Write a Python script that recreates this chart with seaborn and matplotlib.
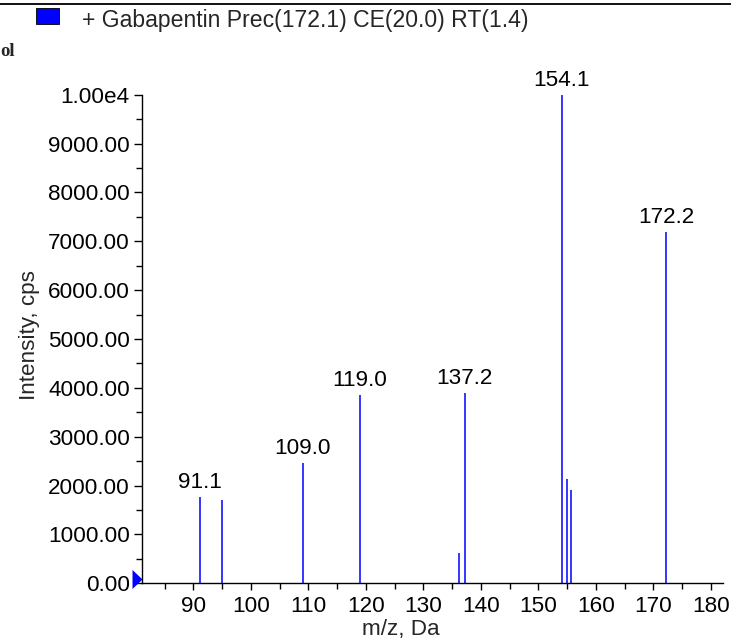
import matplotlib
matplotlib.use("Agg")
import matplotlib.pyplot as plt
import seaborn as sns
import numpy as np
import pandas as pd

# ---- data ----
mz = [91.1, 95.0, 109.0, 119.0, 136.2, 137.2, 154.1, 155.0, 155.6, 172.2]
intensity = [1768, 1700, 2453, 3852, 629, 3887, 10000, 2125, 1906, 7186]
labelled = [91.1, 109.0, 119.0, 137.2, 154.1, 172.2]
label_text = ["91.1", "109.0", "119.0", "137.2", "154.1", "172.2"]
y_ticks = [0, 1000, 2000, 3000, 4000, 5000, 6000, 7000, 8000, 9000, 10000]
y_tick_labels = ["0.00", "1000.00", "2000.00", "3000.00", "4000.00", "5000.00",
                 "6000.00", "7000.00", "8000.00", "9000.00", "1.00e4"]
x_ticks = [90, 100, 110, 120, 130, 140, 150, 160, 170, 180]
title = "+ Gabapentin Prec(172.1) CE(20.0) RT(1.4)"

df = pd.DataFrame({"mz": mz, "intensity": intensity})

sns.set_theme(style="ticks")
plt.rcParams["font.family"] = ["Liberation Sans", "DejaVu Sans"]

FS = 16.2
W, H = 731, 641
fig = plt.figure(figsize=(W / 100, H / 100), dpi=100)
ax = fig.add_axes([142.3 / W, (H - 583.3) / H, (723 - 142.3) / W, (583.3 - 94.7) / H])

blue = "#0000FF"
ax.vlines(df["mz"], 0, df["intensity"], color=blue, linewidth=1.1)

for m, t in zip(labelled, label_text):
    y = df.loc[np.isclose(df["mz"], m), "intensity"].iloc[0]
    ax.annotate(t, (m, y), xytext=(0, 3), textcoords="offset points",
                ha="center", va="bottom", fontsize=FS, color="black",
                annotation_clip=False)

ax.set_xlim(81.13, 182.1)
ax.set_ylim(0, 10000)
ax.set_xticks(x_ticks)
ax.set_xticks(np.arange(85, 182, 10), minor=True)
ax.set_yticks(y_ticks)
ax.set_yticklabels(y_tick_labels)
ax.set_yticks(np.arange(500, 10000, 1000), minor=True)
ax.tick_params(axis="y", which="major", direction="out", length=6, width=1,
               labelsize=FS, colors="black", pad=3)
ax.tick_params(axis="x", which="major", direction="out", length=5, width=1,
               labelsize=FS, colors="black", pad=4)
ax.tick_params(axis="both", which="minor", direction="out", length=4, width=1,
               colors="black")
sns.despine(ax=ax)
for s in ["left", "bottom"]:
    ax.spines[s].set_color("black")
    ax.spines[s].set_linewidth(1.0)
ax.set_facecolor("white")

# blue marker at origin (left of the y axis, pointing right)
tri = [(-1.0, -0.95), (-1.0, 0.95), (0.0, 0.0), (-1.0, -0.95)]
ax.plot([0], [4.8 / 488.6], marker=tri, markersize=14.4, color=blue,
        transform=ax.transAxes, clip_on=False, markeredgewidth=0)

# axis labels
fig.text(29 / W, 1 - 335 / H, "Intensity, cps", rotation=90, ha="center", va="center",
         fontsize=FS)
fig.text(401 / W, 1 - 629 / H, "m/z, Da", ha="center", va="center", fontsize=FS)

# header
fig.add_artist(plt.Line2D([0, 1], [1 - 4 / H, 1 - 4 / H], color="black", linewidth=1.3))
fig.add_artist(plt.Rectangle((36 / W, 1 - 23.5 / H), 23 / W, 16 / H, facecolor=blue,
                             edgecolor="black", linewidth=0.6))
fig.text(82 / W, 1 - 20 / H, title, ha="left", va="center", fontsize=16.6)
fig.text(0.5 / W, 1 - 52 / H, "ol", ha="left", va="center", fontsize=13.5,
         fontweight="bold", family=["Liberation Serif", "DejaVu Serif"])

fig.savefig("out.png", dpi=100, facecolor="white")
